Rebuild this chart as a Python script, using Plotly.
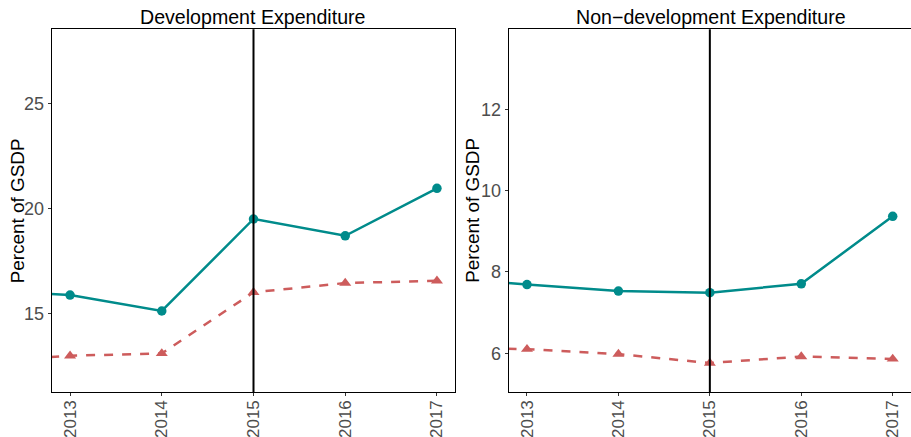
import plotly.graph_objects as go

# Fiscal years (2012 lies just left of the visible window and is clipped)
years = [2012, 2013, 2014, 2015, 2016, 2017]
tick_years = [2013, 2014, 2015, 2016, 2017]
reform_year = 2015

# Development expenditure, percent of GSDP
dev_teal = [16.14, 15.89, 15.13, 19.51, 18.71, 20.97]
dev_red = [12.70, 13.00, 13.11, 16.02, 16.46, 16.57]

# Non-development expenditure, percent of GSDP
nondev_teal = [7.89, 7.69, 7.53, 7.49, 7.71, 9.37]
nondev_red = [6.15, 6.10, 5.98, 5.76, 5.92, 5.86]

panel_titles = ["Development Expenditure", "Non\u2212development Expenditure"]
y_title = "Percent of GSDP"

TEAL = "#008B8B"
RED = "#CD5C5C"
W, H = 911, 437
FONT = "Liberation Sans, Arial, sans-serif"

# panel geometry in pixels
top_px, bottom_px = 29.3, 392.3
left_panel = (51.7, 455.3)
right_panel = (508.7, 911.0)

def px_x(v):
    return v / W

def px_y(v):
    return 1 - v / H

fig = go.Figure()

def add_series(xa, ya, teal, red):
    fig.add_trace(go.Scatter(
        x=years, y=teal, xaxis=xa, yaxis=ya, mode="lines+markers",
        line=dict(color=TEAL, width=2.5),
        marker=dict(symbol="circle", size=9.5, color=TEAL),
        showlegend=False, hoverinfo="x+y"))
    fig.add_trace(go.Scatter(
        x=years, y=red, xaxis=xa, yaxis=ya, mode="lines+markers",
        line=dict(color=RED, width=2.5, dash="9px,9px"),
        marker=dict(symbol="triangle-up", size=10.5, color=RED),
        showlegend=False, hoverinfo="x+y"))

add_series("x", "y", dev_teal, dev_red)
add_series("x2", "y2", nondev_teal, nondev_red)

xcommon = dict(
    range=[2012.8, 2017.2], tickmode="array", tickvals=tick_years,
    ticktext=[str(y) for y in tick_years], tickangle=-90,
    ticks="outside", ticklen=3, tickwidth=1, tickcolor="#333333",
    tickfont=dict(family=FONT, size=17, color="#4D4D4D"), ticklabelstandoff=-3,
    showgrid=False, zeroline=False,
    showline=True, linecolor="black", linewidth=1.2, automargin=False,
)
ycommon = dict(
    ticks="outside", ticklen=3, tickwidth=1, tickcolor="#333333",
    tickfont=dict(family=FONT, size=18, color="#4D4D4D"),
    showgrid=False, zeroline=False,
    showline=True, linecolor="black", linewidth=1.2, automargin=False,
)

fig.update_layout(
    width=W, height=H,
    margin=dict(l=0, r=0, t=0, b=0),
    paper_bgcolor="white", plot_bgcolor="white",
    font=dict(family=FONT),
    xaxis=dict(xcommon, domain=[px_x(left_panel[0]), px_x(left_panel[1])],
               anchor="y", mirror=True),
    yaxis=dict(ycommon, domain=[px_y(bottom_px), px_y(top_px)],
               anchor="x", range=[11.26, 28.54], tickvals=[15, 20, 25], mirror=True),
    xaxis2=dict(xcommon, domain=[px_x(right_panel[0]), px_x(right_panel[1])],
                anchor="y2", mirror=True),
    yaxis2=dict(ycommon, domain=[px_y(bottom_px), px_y(top_px)],
                anchor="x2", range=[5.04, 13.97], tickvals=[6, 8, 10, 12], mirror=False),
)

# vertical reference line at the reform year in each panel
for xr, yr in [("x", "y domain"), ("x2", "y2 domain")]:
    fig.add_shape(type="line", xref=xr, yref=yr, x0=reform_year, x1=reform_year,
                  y0=0, y1=1, line=dict(color="black", width=2), layer="above")

# panel titles
centers = [(left_panel[0] + left_panel[1]) / 2, (right_panel[0] + 912.3) / 2]
for title, cx in zip(panel_titles, centers):
    fig.add_annotation(text=title, x=px_x(cx), y=px_y(16.5), xref="paper", yref="paper",
                       xanchor="center", yanchor="middle", showarrow=False,
                       font=dict(family=FONT, size=19.6, color="black"))

# y-axis titles
mid_y = (top_px + bottom_px) / 2
for ax_x in [17.5, 473.0]:
    fig.add_annotation(text=y_title, x=px_x(ax_x), y=px_y(mid_y), xref="paper", yref="paper",
                       xanchor="center", yanchor="middle", textangle=-90, showarrow=False,
                       font=dict(family=FONT, size=18.9, color="black"))

fig.write_html("out.html")
